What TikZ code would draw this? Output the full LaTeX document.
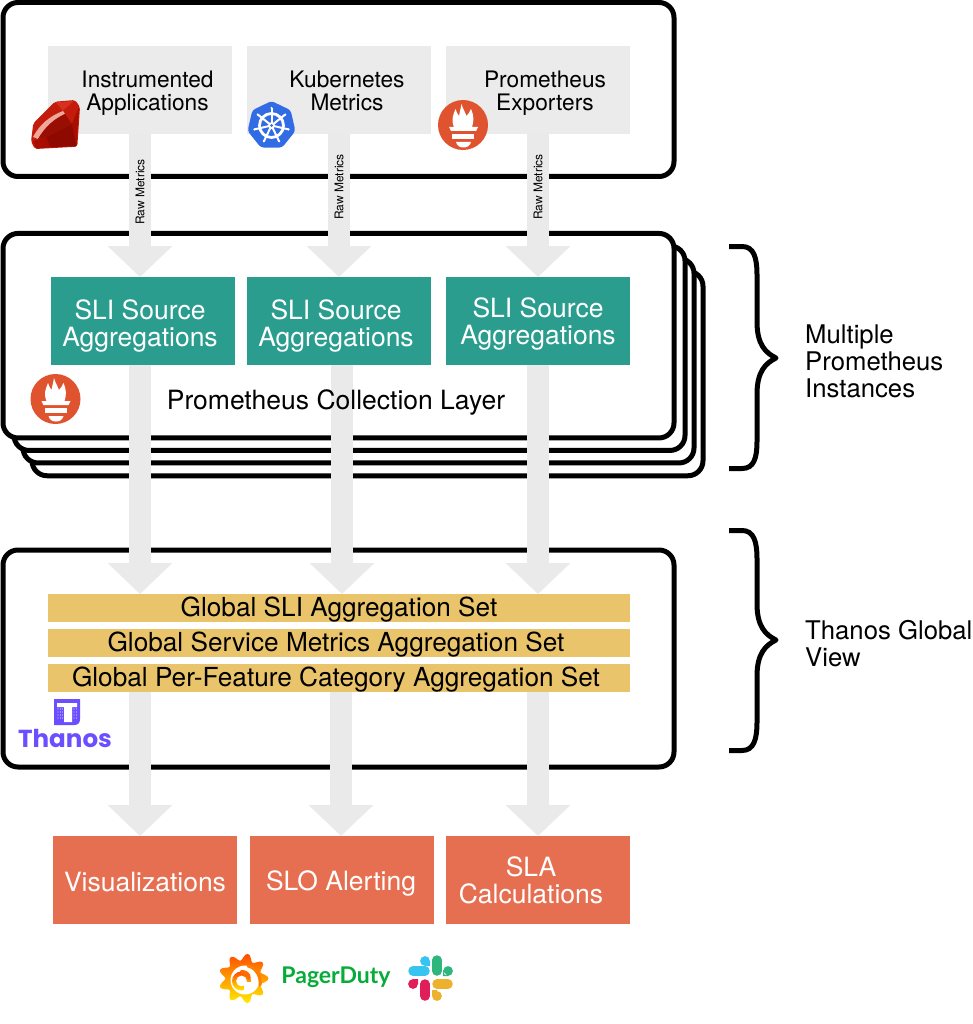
\documentclass[tikz,border=0pt]{standalone}
\usepackage{fontspec}
\setmainfont{TeX Gyre Heros}
\newfontfamily\thanosfont{Poppins}
\newfontfamily\pagerfont{Lato}
\usetikzlibrary{arrows.meta}
\definecolor{pale}{HTML}{EBEBEB}
\definecolor{flowgrey}{HTML}{EAEAEA}
\definecolor{teal}{HTML}{2A9D8F}
\definecolor{gold}{HTML}{E9C46A}
\definecolor{coral}{HTML}{E76F51}
\definecolor{promred}{HTML}{E0532F}
\definecolor{kblue}{HTML}{326CE5}
\definecolor{thanos}{HTML}{6B4EFF}
\definecolor{pduty}{HTML}{06AC38}
\definecolor{rubya}{HTML}{C41C0C}
\definecolor{rubyb}{HTML}{A80D00}
\definecolor{rubyc}{HTML}{D8301C}
\definecolor{rubyd}{HTML}{8E0A00}
\definecolor{rubye}{HTML}{EFA79A}
\tikzset{
  x=1pt,y=-1pt,
  frame/.style={draw=black,line width=5pt,fill=white,rounded corners=15pt,inner sep=0pt,outer sep=0pt},
  block/.style={inner sep=0pt,outer sep=0pt,minimum width=184pt,minimum height=88pt},
  srcbox/.style={block,fill=pale},
  slibox/.style={block,fill=teal},
  outbox/.style={block,fill=coral},
  setbar/.style={inner sep=0pt,outer sep=0pt,fill=gold,minimum width=582pt,minimum height=28pt,
     font=\fontsize{26.2}{27}\selectfont,text=black,text height=19pt,text depth=2.5pt},
  smalltxt/.style={align=center,inner sep=0pt,font=\fontsize{22.7}{23}\selectfont,text=black},
  bigtxt/.style={align=center,inner sep=0pt,font=\fontsize{26.5}{27}\selectfont,text=white},
  sidetxt/.style={align=left,anchor=west,inner sep=0pt,font=\fontsize{25.7}{27}\selectfont,text=black},
  flow/.style={draw=flowgrey,line width=22pt,-{Triangle[width=63pt,length=31pt,color=flowgrey]}},
  rawtxt/.style={rotate=90,inner sep=0pt,font=\fontsize{12}{14}\selectfont,text=black},
  brace/.style={draw=black,line width=5pt,line join=round},
  promlogo/.pic={
    \fill[promred] (0,0) circle (25);
    \fill[white] (-9,2) .. controls (-12,-5) and (-10,-10) .. (-7.5,-16)
      .. controls (-6,-12) and (-5,-10) .. (-4,-9)
      .. controls (-3,-14) and (-2,-18) .. (-1.5,-21)
      .. controls (0,-16) and (2,-13) .. (3.5,-9)
      .. controls (5,-11) and (7,-13) .. (8,-16)
      .. controls (11,-9) and (11,-4) .. (9,2) -- (15,2) -- (13,6) -- (-12,6) -- (-14,2) -- cycle;
    \fill[white] (-11,9) -- (11,9) -- (11,14) -- (-11,14) -- cycle;
    \fill[white] (-7,17) -- (8,17) .. controls (7,21) and (4,22.5) .. (0.5,22.5) .. controls (-3,22.5) and (-6,21) .. (-7,17) -- cycle;
  },
  k8slogo/.pic={
    \fill[kblue,rounded corners=3pt] plot[domain=-90:218.58,samples=7] ({24.5*cos(\x)},{24.5*sin(\x)}) -- cycle;
    \draw[white,line width=2.8pt] (0,0) circle (12);
    \foreach \a in {-90,-38.6,12.9,64.3,115.7,167.1,218.6}{
      \draw[white,line width=2pt] (0,0) -- ({17.5*cos(\a)},{17.5*sin(\a)});
      \fill[white] ({17.5*cos(\a)},{17.5*sin(\a)}) circle (1.2);
    }
    \fill[white] (0,0) circle (3.4);
    \fill[kblue] (0,0) circle (1.5);
  },
}
\begin{document}
\begin{tikzpicture}
\path[use as bounding box,fill=white] (0,0) rectangle (972,1024);

% frames
\node[frame,minimum width=671pt,minimum height=174pt] (topframe) at (338.5,89.5) {};
\node[frame,minimum width=671pt,minimum height=204.5pt] (stackd) at (367.5,373.5) {};
\node[frame,minimum width=671pt,minimum height=204.5pt] (stackc) at (358.5,360.7) {};
\node[frame,minimum width=671pt,minimum height=204.5pt] (stackb) at (349.5,348.2) {};
\node[frame,minimum width=671pt,minimum height=204.5pt] (stacka) at (338.5,335.7) {};
\node[frame,minimum width=671pt,minimum height=217pt] (globalframe) at (338.5,658.5) {};

% source boxes
\node[srcbox] (inst) at (140,90) {};
\node[srcbox] (kube) at (339,90) {};
\node[srcbox] (expo) at (538,90) {};

% SLI boxes
\node[slibox] (slia) at (142.5,321) {};
\node[slibox] (slib) at (339,321) {};
\node[slibox] (slic) at (538,321) {};

% global sets
\node[setbar] (setone) at (339,608) {Global SLI Aggregation Set};
\node[setbar] (settwo) at (339,643) {\hspace*{-6pt}Global Service Metrics Aggregation Set};
\node[setbar] (setthree) at (339,678) {\hspace*{-6pt}Global Per-Feature Category Aggregation Set};

% outputs
\node[outbox] (vis) at (145,880) {};
\node[outbox] (slo) at (342,880) {};
\node[outbox] (sla) at (538,880) {};

% block arrows
\draw[flow] (inst.south) -- ([xshift=-2.5pt]slia.north);
\draw[flow] (kube.south) -- (slib.north);
\draw[flow] (expo.south) -- (slic.north);
\draw[flow] ([xshift=-2.5pt]slia.south) -- ([xshift=-199pt]setone.north);
\draw[flow] ([xshift=3pt]slib.south) -- ([xshift=3pt]setone.north);
\draw[flow] (slic.south) -- ([xshift=199pt]setone.north);
\draw[flow] ([xshift=-199pt]setthree.south) -- ([xshift=-5pt]vis.north);
\draw[flow] ([xshift=2pt]setthree.south) -- ([xshift=-1pt]slo.north);
\draw[flow] ([xshift=199pt]setthree.south) -- (sla.north);

% arrow labels
\node[rawtxt] (rawa) at (140,192) {Raw Metrics};
\node[rawtxt] (rawb) at (339,187) {Raw Metrics};
\node[rawtxt] (rawc) at (538,187) {Raw Metrics};

% box labels
\node[smalltxt] (instlabel) at (147.5,93) {Instrumented\\Applications};
\node[smalltxt] (kubelabel) at (347,91) {Kubernetes\\Metrics};
\node[smalltxt] (expolabel) at (545,93) {Prometheus\\Exporters};
\node[bigtxt] (slialabel) at (140,326) {SLI Source\\Aggregations};
\node[bigtxt] (sliblabel) at (336,326) {SLI Source\\Aggregations};
\node[bigtxt] (sliclabel) at (538,324) {SLI Source\\Aggregations};
\node[bigtxt,text=black] (layerlabel) at (336,402) {Prometheus Collection Layer};
\node[bigtxt] (vislabel) at (145,882) {Visualizations};
\node[bigtxt] (slolabel) at (341,883) {SLO Alerting};
\node[bigtxt] (slalabel) at (531,880) {SLA\\Calculations};

% side text and braces
\node[sidetxt] (multi) at (805,361) {Multiple\\Prometheus\\Instances};
\node[sidetxt] (thanosview) at (805,644) {Thanos Global\\View};
\draw[brace] (729,246.5) -- (742,246.5) .. controls (754,246.5) and (757,258) .. (757,275)
  -- (757,322) .. controls (757,345) and (766,353) .. (776,358)
  .. controls (766,363) and (757,371) .. (757,394) -- (757,441)
  .. controls (757,458) and (754,468.5) .. (742,468.5) -- (729,468.5);
\draw[brace] (729,530.5) -- (742,530.5) .. controls (754,530.5) and (757,542) .. (757,559)
  -- (757,604) .. controls (757,627) and (766,635) .. (776,640)
  .. controls (766,645) and (757,653) .. (757,676) -- (757,722)
  .. controls (757,739) and (754,750.5) .. (742,750.5) -- (729,750.5);

% Ruby logo
\fill[rubya,rounded corners=2pt] (55,101.7) -- (75,100) -- (80,107) -- (77.3,146.7) -- (35,149) -- (31,141.7) -- (33.3,123.3) -- cycle;
\fill[rubyc] (56,102.5) -- (74,101) -- (63,111) -- cycle;
\fill[rubya] (63,111) -- (74,101) -- (79,107) -- (72,124) -- cycle;
\fill[rubyb] (72,124) -- (79,107) -- (76.5,146) -- cycle;
\fill[rubyd] (46,137) -- (72,124) -- (76.5,146) -- (50,147.5) -- cycle;
\fill[rubyb] (33,141) -- (46,137) -- (50,147.5) -- (36,148.5) -- cycle;
\fill[rubye] (33,137) .. controls (40,124) and (50,116) .. (63,111) -- (65,114) .. controls (54,119) and (45,127) .. (38,139) -- cycle;
\fill[rubyd!80!rubya] (38,139) .. controls (45,127) and (54,119) .. (65,114) -- (72,124) -- (46,137) -- cycle;

% Kubernetes and Prometheus logos
\pic at (271.5,125.5) {k8slogo};
\pic at (463,125) {promlogo};
\pic at (55.5,399) {promlogo};

% Thanos logo
\fill[thanos] (54,699) -- (80,699) -- (80,719) .. controls (80,723) and (78,725) .. (74,725) -- (54,725) -- cycle;
\fill[white] (57,703) -- (77,703) -- (77,707) -- (72,707) -- (72,722) -- (64,722) -- (64,707) -- (57,707) -- cycle;
\foreach \dx in {58,60.5,62.5}{\foreach \dy in {709,712,715,718}{\fill[white!70!thanos] (\dx,\dy) circle (0.7);}}
\foreach \dx in {74,76.5}{\foreach \dy in {709,712,715,718}{\fill[white!70!thanos] (\dx,\dy) circle (0.7);}}
\node[inner sep=0pt,text=thanos,font=\thanosfont\fontsize{24.6}{27}\selectfont\bfseries] (thanoslogo) at (65,738.5) {Thanos};

% Grafana logo
\shade[top color=orange!60!red,bottom color=yellow!85!orange]
  plot[smooth cycle,domain=0:355,samples=72] ({243.5+(21.5+3.5*cos(9*\x))*cos(\x)},{978.5+(21.5+3.5*cos(9*\x))*sin(\x)});
\fill[white] (245,980) circle (14.5);
\shade[top color=orange!60!red,bottom color=yellow!85!orange,even odd rule]
  (241.5,981) circle (9.5) (241.5,981) circle (5.5);
\fill[white] (244,982) -- (252,982) -- (252,992) -- (244,992) -- cycle;
\draw[orange!85!red,line width=3.5pt,line cap=round] (249,978) .. controls (249,974) and (246,972) .. (241.5,971.5);
\draw[orange,line width=3pt,line cap=round] (260,985) .. controls (261,976) and (256,968) .. (248,966);

% PagerDuty wordmark
\node[inner sep=0pt,text=pduty,font=\pagerfont\fontsize{23}{26}\selectfont\bfseries] (pagerduty) at (336,977) {PagerDuty};

% Slack logo
\definecolor{slackblue}{HTML}{36C5F0}
\definecolor{slackgreen}{HTML}{2EB67D}
\definecolor{slackred}{HTML}{E01E5A}
\definecolor{slackyellow}{HTML}{ECB22E}
\begin{scope}[line width=9.5pt,line cap=round]
  \draw[slackblue] (413,971) -- (425,971);
  \fill[slackblue] (425,961) circle (4.9) (425,961) -- (430,961) -- (430,966) -- (425,966) -- cycle;
  \draw[slackgreen] (437,960) -- (437,971);
  \fill[slackgreen] (448,971) circle (4.9) (443,971) -- (443,976) -- (448,976) -- cycle;
  \draw[slackred] (425,984) -- (425,996);
  \fill[slackred] (413,984) circle (4.9) (413,979) -- (418,979) -- (418,984) -- cycle;
  \draw[slackyellow] (437,984) -- (448,984);
  \fill[slackyellow] (437,996) circle (4.9) (432,990) -- (437,990) -- (437,996) -- (432,996) -- cycle;
\end{scope}
\end{tikzpicture}
\end{document}
